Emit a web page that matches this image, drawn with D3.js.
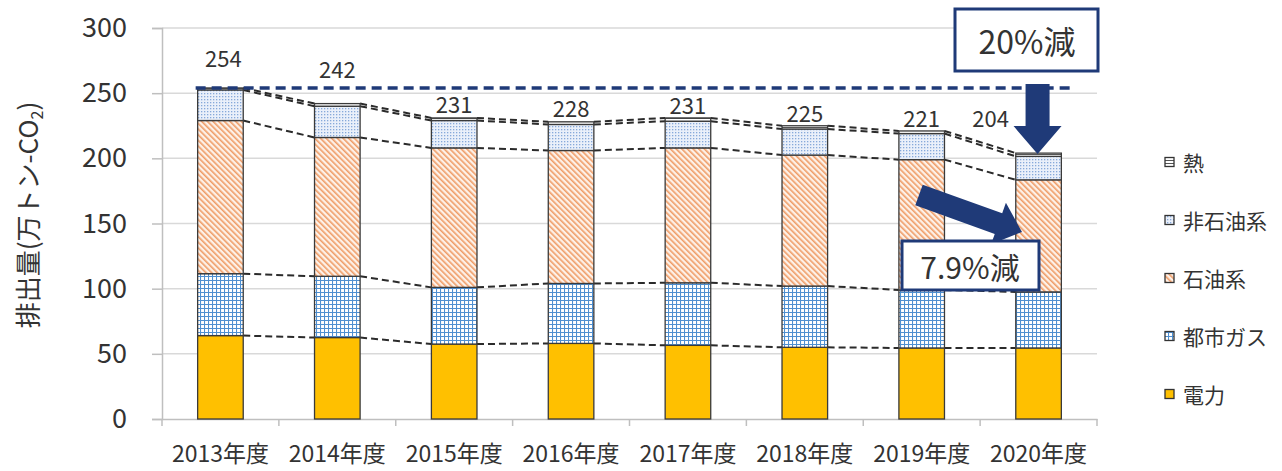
<!DOCTYPE html>
<html>
<head>
<meta charset="utf-8">
<script src="https://cdn.jsdelivr.net/npm/d3@7"></script>
<style>
  html, body { margin: 0; padding: 0; background: #ffffff; }
  svg { display: block; }
  text { font-family: "Noto Sans CJK JP", "Noto Sans", sans-serif; fill: #333333; }
</style>
</head>
<body>
<svg id="chart" width="1282" height="471"></svg>
<script>
// ---- data ----
const categories = ["2013年度", "2014年度", "2015年度", "2016年度", "2017年度", "2018年度", "2019年度", "2020年度"];
const electricity  = [64, 62.5, 57.5, 58, 56.5, 55, 54.5, 54.5];
const cityGas      = [47.5, 47, 43.5, 46, 48, 47, 44.5, 43];
const petroleum    = [117.5, 106.5, 107, 102, 103.5, 100.5, 100, 86];
const nonPetroleum = [23.5, 24, 21, 20, 20.5, 20, 20, 18];
const heat         = [1.5, 2, 2, 2, 2.5, 2.5, 2, 2.5];
const totalLabels  = ["254", "242", "231", "228", "231", "225", "221", "204"];
const seriesNames  = ["電力", "都市ガス", "石油系", "非石油系", "熱"];
const yTicks       = [0, 50, 100, 150, 200, 250, 300];
const baseYearValue = 254;
const targetValue   = 204;
const note20 = "20%減";
const note79 = "7.9%減";

// ---- layout ----
const svg = d3.select("#chart");
const plot = { left: 162, right: 1097, top: 28, bottom: 419 };

const x = d3.scaleBand().domain(categories).range([plot.left, plot.right])
  .paddingInner(0.61).paddingOuter(0.305);
const y = d3.scaleLinear().domain([0, 300]).range([plot.bottom, plot.top]);

// patterns
const defs = svg.append("defs");
const pGas = defs.append("pattern").attr("id", "pGas").attr("patternUnits", "userSpaceOnUse")
  .attr("width", 4).attr("height", 4);
pGas.append("rect").attr("width", 4).attr("height", 4).attr("fill", "#ffffff");
pGas.append("path").attr("d", "M0,0.5H4M0.5,0V4").attr("stroke", "#4f8fd0").attr("stroke-width", 1.1);

const pOil = defs.append("pattern").attr("id", "pOil").attr("patternUnits", "userSpaceOnUse")
  .attr("width", 4).attr("height", 4).attr("patternTransform", "rotate(-45)");
pOil.append("rect").attr("width", 4).attr("height", 4).attr("fill", "#fdf1e8");
pOil.append("rect").attr("x", 0).attr("y", 0).attr("width", 1.6).attr("height", 4).attr("fill", "#ef9c66");

const pNon = defs.append("pattern").attr("id", "pNon").attr("patternUnits", "userSpaceOnUse")
  .attr("width", 3).attr("height", 3);
pNon.append("rect").attr("width", 3).attr("height", 3).attr("fill", "#eaf0fa");
pNon.append("rect").attr("x", 0).attr("y", 0).attr("width", 1.3).attr("height", 1.3).attr("fill", "#86a9da");

const pHeat = defs.append("pattern").attr("id", "pHeat").attr("patternUnits", "userSpaceOnUse")
  .attr("width", 4).attr("height", 3);
pHeat.append("rect").attr("width", 4).attr("height", 3).attr("fill", "#ffffff");
pHeat.append("path").attr("d", "M0,1.5H4").attr("stroke", "#555").attr("stroke-width", 1);

const fills = ["#FFC000", "url(#pGas)", "url(#pOil)", "url(#pNon)", "url(#pHeat)"];

// gridlines
svg.append("g").selectAll("line").data(yTicks.filter(d => d > 0)).join("line")
  .attr("x1", plot.left).attr("x2", plot.right)
  .attr("y1", d => y(d)).attr("y2", d => y(d))
  .attr("stroke", "#d9d9d9").attr("stroke-width", 1.5);

// y axis
const yAxis = svg.append("g").attr("transform", `translate(${plot.left},0)`)
  .call(d3.axisLeft(y).tickValues(yTicks).tickSize(10).tickPadding(25).tickFormat(d3.format("d")));
yAxis.select(".domain").attr("stroke", "#bfbfbf").attr("stroke-width", 1.5);
yAxis.selectAll(".tick line").attr("stroke", "#bfbfbf").attr("stroke-width", 1.5);
yAxis.selectAll(".tick text").style("font-size", "27px").attr("fill", "#333")
  .style("font-family", '"Noto Sans CJK JP", sans-serif');

// x axis
const xAxis = svg.append("g").attr("transform", `translate(0,${plot.bottom})`)
  .call(d3.axisBottom(x).tickSize(0).tickPadding(27));
xAxis.select(".domain").attr("stroke", "#bfbfbf").attr("stroke-width", 1.5);
xAxis.selectAll(".tick text").style("font-size", "23px").attr("fill", "#333")
  .style("font-family", '"Noto Sans CJK JP", sans-serif');
// category separator ticks
const step = x.step();
svg.append("g").selectAll("line").data(d3.range(categories.length + 1)).join("line")
  .attr("x1", i => plot.left + i * step).attr("x2", i => plot.left + i * step)
  .attr("y1", plot.bottom).attr("y2", plot.bottom + 7)
  .attr("stroke", "#bfbfbf").attr("stroke-width", 1.5);

// stacked data
const seriesArrays = [electricity, cityGas, petroleum, nonPetroleum, heat];
const rows = categories.map((c, i) => {
  const r = { cat: c };
  seriesNames.forEach((s, k) => r[s] = seriesArrays[k][i]);
  return r;
});
const stacked = d3.stack().keys(seriesNames)(rows);

// series connector lines (dashed)
const conn = svg.append("g");
stacked.forEach(layer => {
  for (let i = 0; i < categories.length - 1; i++) {
    conn.append("line")
      .attr("x1", x(categories[i]) + x.bandwidth())
      .attr("y1", y(layer[i][1]))
      .attr("x2", x(categories[i + 1]))
      .attr("y2", y(layer[i + 1][1]))
      .attr("stroke", "#2b2b2b").attr("stroke-width", 2).attr("stroke-dasharray", "7,4");
  }
});

// bars
svg.append("g").selectAll("g").data(stacked).join("g")
  .attr("fill", (d, k) => fills[k])
  .selectAll("rect").data(d => d).join("rect")
  .attr("x", d => x(d.data.cat))
  .attr("width", x.bandwidth())
  .attr("y", d => y(d[1]))
  .attr("height", d => y(d[0]) - y(d[1]))
  .attr("stroke", "#3a3a3a").attr("stroke-width", 1.3);

// base-year dashed line
svg.append("line")
  .attr("x1", x(categories[0]) - 2).attr("x2", 1072)
  .attr("y1", y(baseYearValue)).attr("y2", y(baseYearValue))
  .attr("stroke", "#1f3a78").attr("stroke-width", 3.5).attr("stroke-dasharray", "10,6");

// total labels
const labelLift = [21, 26, 5, 5, 4, 4, 4, 26];
const labelShiftX = [3, 0, 0, 0, 0, 0, 0, -48];
const totals = stacked[stacked.length - 1];
svg.append("g").selectAll("text").data(totals).join("text")
  .attr("x", (d, i) => x(categories[i]) + x.bandwidth() / 2 + labelShiftX[i])
  .attr("y", (d, i) => y(d[1]) - labelLift[i])
  .attr("text-anchor", "middle")
  .style("font-size", "22px")
  .text((d, i) => totalLabels[i]);

// y axis title
const yt = svg.append("text")
  .attr("transform", "translate(38,215) rotate(-90)")
  .attr("text-anchor", "middle")
  .style("font-size", "26px");
yt.append("tspan").text("排出量(万トン-CO");
yt.append("tspan").text("2").style("font-size", "16px").attr("dy", 5);
yt.append("tspan").text(")").attr("dy", -5);

// legend
const legendOrder = [4, 3, 2, 1, 0];
const lg = svg.append("g");
legendOrder.forEach((k, j) => {
  const cy = 162 + j * 58;
  lg.append("rect").attr("x", 1165).attr("y", cy - 4.5).attr("width", 9).attr("height", 9)
    .attr("fill", fills[k]).attr("stroke", "#333").attr("stroke-width", 1.3);
  lg.append("text").attr("x", 1183).attr("y", cy).attr("dominant-baseline", "central")
    .style("font-size", "21px").text(seriesNames[k]);
});

// arrow helper
function arrow(x0, y0, x1, y1, w, hl, hw) {
  const dx = x1 - x0, dy = y1 - y0, L = Math.hypot(dx, dy);
  const ux = dx / L, uy = dy / L, nx = -uy, ny = ux;
  const bx = x1 - ux * hl, by = y1 - uy * hl;
  const pts = [
    [x0 + nx * w / 2, y0 + ny * w / 2],
    [bx + nx * w / 2, by + ny * w / 2],
    [bx + nx * hw / 2, by + ny * hw / 2],
    [x1, y1],
    [bx - nx * hw / 2, by - ny * hw / 2],
    [bx - nx * w / 2, by - ny * w / 2],
    [x0 - nx * w / 2, y0 - ny * w / 2]
  ];
  return "M" + pts.map(p => p.join(",")).join("L") + "Z";
}
const navy = "#1f3a78";
const last = categories[categories.length - 1];
const cx20 = x(last) + x.bandwidth() / 2 - 1;

// 20% box + down arrow
svg.append("path").attr("d", arrow(cx20, 84, cx20, y(targetValue) + 1, 24, 28, 48)).attr("fill", navy);
svg.append("rect").attr("x", 955).attr("y", 9).attr("width", 143).attr("height", 62)
  .attr("fill", "#fff").attr("stroke", navy).attr("stroke-width", 3);
svg.append("text").attr("x", 1027).attr("y", 40).attr("text-anchor", "middle")
  .attr("dominant-baseline", "central").style("font-size", "32px").text(note20);

// diagonal arrow + 7.9% box
svg.append("path").attr("d", arrow(919, 195, 1022, 232, 22, 25, 44)).attr("fill", navy);
svg.append("rect").attr("x", 902).attr("y", 241).attr("width", 137).attr("height", 49)
  .attr("fill", "#fff").attr("stroke", navy).attr("stroke-width", 3);
svg.append("text").attr("x", 970).attr("y", 266).attr("text-anchor", "middle")
  .attr("dominant-baseline", "central").style("font-size", "30px").text(note79);
</script>
</body>
</html>
